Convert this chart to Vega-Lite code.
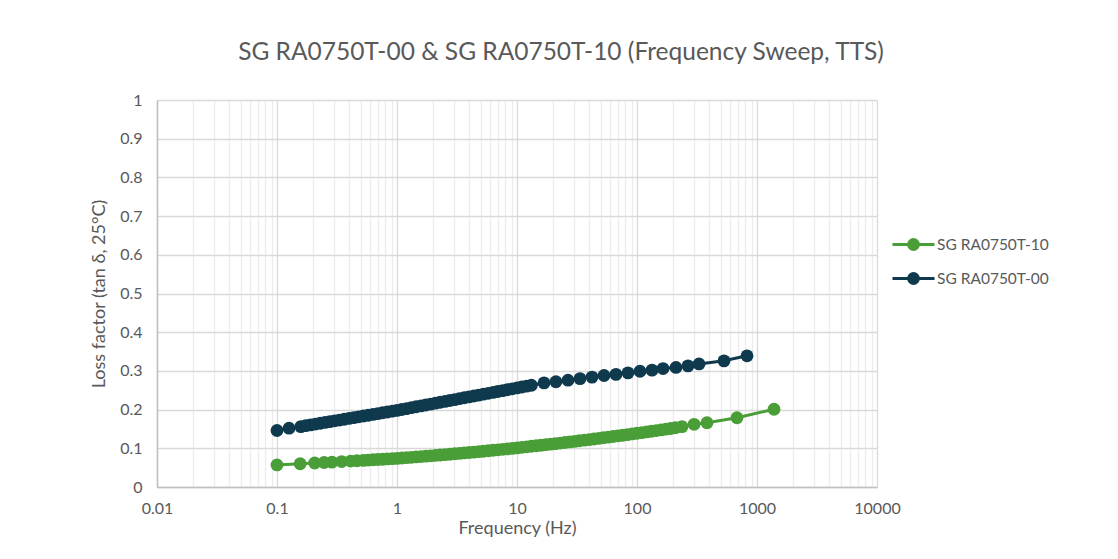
{
  "$schema": "https://vega.github.io/schema/vega-lite/v6.json",
  "description": "Loss factor vs frequency, TTS master curves",
  "autosize": {"type": "none"},
  "padding": {"left": 157, "top": 100, "right": 241, "bottom": 72},
  "width": 720,
  "height": 387,
  "background": "white",
  "title": {
    "text": "SG RA0750T-00 & SG RA0750T-10 (Frequency Sweep, TTS)",
    "frame": "group",
    "anchor": "middle",
    "dx": 44,
    "offset": 8,
    "baseline": "alphabetic",
    "font": "Lato",
    "fontSize": 24.5,
    "fontWeight": "normal",
    "color": "#595959"
  },
  "config": {
    "font": "Lato",
    "view": {"stroke": null}
  },
  "data": {
    "values": [
      {"sample": "SG RA0750T-00", "freq": 0.1, "tand": 0.146},
      {"sample": "SG RA0750T-00", "freq": 0.126, "tand": 0.152},
      {"sample": "SG RA0750T-00", "freq": 0.158, "tand": 0.156},
      {"sample": "SG RA0750T-00", "freq": 0.1738, "tand": 0.1585},
      {"sample": "SG RA0750T-00", "freq": 0.1905, "tand": 0.1606},
      {"sample": "SG RA0750T-00", "freq": 0.2089, "tand": 0.1626},
      {"sample": "SG RA0750T-00", "freq": 0.2291, "tand": 0.1647},
      {"sample": "SG RA0750T-00", "freq": 0.2512, "tand": 0.1668},
      {"sample": "SG RA0750T-00", "freq": 0.2754, "tand": 0.1689},
      {"sample": "SG RA0750T-00", "freq": 0.302, "tand": 0.171},
      {"sample": "SG RA0750T-00", "freq": 0.3311, "tand": 0.173},
      {"sample": "SG RA0750T-00", "freq": 0.3631, "tand": 0.1751},
      {"sample": "SG RA0750T-00", "freq": 0.3981, "tand": 0.1772},
      {"sample": "SG RA0750T-00", "freq": 0.4365, "tand": 0.1793},
      {"sample": "SG RA0750T-00", "freq": 0.4786, "tand": 0.1814},
      {"sample": "SG RA0750T-00", "freq": 0.5248, "tand": 0.1834},
      {"sample": "SG RA0750T-00", "freq": 0.5754, "tand": 0.1855},
      {"sample": "SG RA0750T-00", "freq": 0.631, "tand": 0.1876},
      {"sample": "SG RA0750T-00", "freq": 0.6918, "tand": 0.1897},
      {"sample": "SG RA0750T-00", "freq": 0.7586, "tand": 0.1918},
      {"sample": "SG RA0750T-00", "freq": 0.8318, "tand": 0.1938},
      {"sample": "SG RA0750T-00", "freq": 0.912, "tand": 0.1959},
      {"sample": "SG RA0750T-00", "freq": 1.0, "tand": 0.198},
      {"sample": "SG RA0750T-00", "freq": 1.096, "tand": 0.2003},
      {"sample": "SG RA0750T-00", "freq": 1.202, "tand": 0.2026},
      {"sample": "SG RA0750T-00", "freq": 1.318, "tand": 0.205},
      {"sample": "SG RA0750T-00", "freq": 1.445, "tand": 0.2073},
      {"sample": "SG RA0750T-00", "freq": 1.585, "tand": 0.2096},
      {"sample": "SG RA0750T-00", "freq": 1.738, "tand": 0.2119},
      {"sample": "SG RA0750T-00", "freq": 1.905, "tand": 0.2142},
      {"sample": "SG RA0750T-00", "freq": 2.089, "tand": 0.2166},
      {"sample": "SG RA0750T-00", "freq": 2.291, "tand": 0.2189},
      {"sample": "SG RA0750T-00", "freq": 2.512, "tand": 0.2212},
      {"sample": "SG RA0750T-00", "freq": 2.754, "tand": 0.2235},
      {"sample": "SG RA0750T-00", "freq": 3.02, "tand": 0.2258},
      {"sample": "SG RA0750T-00", "freq": 3.311, "tand": 0.2282},
      {"sample": "SG RA0750T-00", "freq": 3.631, "tand": 0.2305},
      {"sample": "SG RA0750T-00", "freq": 3.981, "tand": 0.2328},
      {"sample": "SG RA0750T-00", "freq": 4.365, "tand": 0.2351},
      {"sample": "SG RA0750T-00", "freq": 4.786, "tand": 0.2374},
      {"sample": "SG RA0750T-00", "freq": 5.248, "tand": 0.2398},
      {"sample": "SG RA0750T-00", "freq": 5.754, "tand": 0.2421},
      {"sample": "SG RA0750T-00", "freq": 6.31, "tand": 0.2444},
      {"sample": "SG RA0750T-00", "freq": 6.918, "tand": 0.2467},
      {"sample": "SG RA0750T-00", "freq": 7.586, "tand": 0.249},
      {"sample": "SG RA0750T-00", "freq": 8.318, "tand": 0.2514},
      {"sample": "SG RA0750T-00", "freq": 9.12, "tand": 0.2537},
      {"sample": "SG RA0750T-00", "freq": 10.0, "tand": 0.256},
      {"sample": "SG RA0750T-00", "freq": 10.96, "tand": 0.2583},
      {"sample": "SG RA0750T-00", "freq": 12.02, "tand": 0.2606},
      {"sample": "SG RA0750T-00", "freq": 13.18, "tand": 0.263},
      {"sample": "SG RA0750T-00", "freq": 16.8, "tand": 0.269},
      {"sample": "SG RA0750T-00", "freq": 21.1, "tand": 0.272},
      {"sample": "SG RA0750T-00", "freq": 26.6, "tand": 0.276},
      {"sample": "SG RA0750T-00", "freq": 33.5, "tand": 0.28},
      {"sample": "SG RA0750T-00", "freq": 42.2, "tand": 0.284},
      {"sample": "SG RA0750T-00", "freq": 53.1, "tand": 0.288},
      {"sample": "SG RA0750T-00", "freq": 66.8, "tand": 0.291},
      {"sample": "SG RA0750T-00", "freq": 84.1, "tand": 0.295},
      {"sample": "SG RA0750T-00", "freq": 105.9, "tand": 0.299},
      {"sample": "SG RA0750T-00", "freq": 133.4, "tand": 0.302},
      {"sample": "SG RA0750T-00", "freq": 164.8, "tand": 0.306},
      {"sample": "SG RA0750T-00", "freq": 211.3, "tand": 0.309},
      {"sample": "SG RA0750T-00", "freq": 266.1, "tand": 0.313},
      {"sample": "SG RA0750T-00", "freq": 328.9, "tand": 0.318},
      {"sample": "SG RA0750T-00", "freq": 530.9, "tand": 0.326},
      {"sample": "SG RA0750T-00", "freq": 826, "tand": 0.339},
      {"sample": "SG RA0750T-10", "freq": 0.1, "tand": 0.057},
      {"sample": "SG RA0750T-10", "freq": 0.156, "tand": 0.06},
      {"sample": "SG RA0750T-10", "freq": 0.206, "tand": 0.0619},
      {"sample": "SG RA0750T-10", "freq": 0.247, "tand": 0.0632},
      {"sample": "SG RA0750T-10", "freq": 0.287, "tand": 0.0643},
      {"sample": "SG RA0750T-10", "freq": 0.346, "tand": 0.0657},
      {"sample": "SG RA0750T-10", "freq": 0.411, "tand": 0.067},
      {"sample": "SG RA0750T-10", "freq": 0.464, "tand": 0.0679},
      {"sample": "SG RA0750T-10", "freq": 0.5248, "tand": 0.0688},
      {"sample": "SG RA0750T-10", "freq": 0.5754, "tand": 0.0696},
      {"sample": "SG RA0750T-10", "freq": 0.631, "tand": 0.0703},
      {"sample": "SG RA0750T-10", "freq": 0.6918, "tand": 0.071},
      {"sample": "SG RA0750T-10", "freq": 0.7586, "tand": 0.0718},
      {"sample": "SG RA0750T-10", "freq": 0.8318, "tand": 0.0725},
      {"sample": "SG RA0750T-10", "freq": 0.912, "tand": 0.0732},
      {"sample": "SG RA0750T-10", "freq": 1.0, "tand": 0.074},
      {"sample": "SG RA0750T-10", "freq": 1.096, "tand": 0.0749},
      {"sample": "SG RA0750T-10", "freq": 1.202, "tand": 0.0758},
      {"sample": "SG RA0750T-10", "freq": 1.318, "tand": 0.0767},
      {"sample": "SG RA0750T-10", "freq": 1.445, "tand": 0.0777},
      {"sample": "SG RA0750T-10", "freq": 1.585, "tand": 0.0786},
      {"sample": "SG RA0750T-10", "freq": 1.738, "tand": 0.0796},
      {"sample": "SG RA0750T-10", "freq": 1.905, "tand": 0.0806},
      {"sample": "SG RA0750T-10", "freq": 2.089, "tand": 0.0816},
      {"sample": "SG RA0750T-10", "freq": 2.291, "tand": 0.0826},
      {"sample": "SG RA0750T-10", "freq": 2.512, "tand": 0.0836},
      {"sample": "SG RA0750T-10", "freq": 2.754, "tand": 0.0847},
      {"sample": "SG RA0750T-10", "freq": 3.02, "tand": 0.0858},
      {"sample": "SG RA0750T-10", "freq": 3.311, "tand": 0.0868},
      {"sample": "SG RA0750T-10", "freq": 3.631, "tand": 0.088},
      {"sample": "SG RA0750T-10", "freq": 3.981, "tand": 0.0891},
      {"sample": "SG RA0750T-10", "freq": 4.365, "tand": 0.0902},
      {"sample": "SG RA0750T-10", "freq": 4.786, "tand": 0.0914},
      {"sample": "SG RA0750T-10", "freq": 5.248, "tand": 0.0925},
      {"sample": "SG RA0750T-10", "freq": 5.754, "tand": 0.0937},
      {"sample": "SG RA0750T-10", "freq": 6.31, "tand": 0.0949},
      {"sample": "SG RA0750T-10", "freq": 6.918, "tand": 0.0961},
      {"sample": "SG RA0750T-10", "freq": 7.586, "tand": 0.0974},
      {"sample": "SG RA0750T-10", "freq": 8.318, "tand": 0.0986},
      {"sample": "SG RA0750T-10", "freq": 9.12, "tand": 0.0999},
      {"sample": "SG RA0750T-10", "freq": 10.0, "tand": 0.1012},
      {"sample": "SG RA0750T-10", "freq": 10.96, "tand": 0.1025},
      {"sample": "SG RA0750T-10", "freq": 12.02, "tand": 0.1038},
      {"sample": "SG RA0750T-10", "freq": 13.18, "tand": 0.1052},
      {"sample": "SG RA0750T-10", "freq": 14.45, "tand": 0.1065},
      {"sample": "SG RA0750T-10", "freq": 15.85, "tand": 0.1079},
      {"sample": "SG RA0750T-10", "freq": 17.38, "tand": 0.1093},
      {"sample": "SG RA0750T-10", "freq": 19.05, "tand": 0.1107},
      {"sample": "SG RA0750T-10", "freq": 20.89, "tand": 0.1121},
      {"sample": "SG RA0750T-10", "freq": 22.91, "tand": 0.1135},
      {"sample": "SG RA0750T-10", "freq": 25.12, "tand": 0.115},
      {"sample": "SG RA0750T-10", "freq": 27.54, "tand": 0.1165},
      {"sample": "SG RA0750T-10", "freq": 30.2, "tand": 0.118},
      {"sample": "SG RA0750T-10", "freq": 33.11, "tand": 0.1195},
      {"sample": "SG RA0750T-10", "freq": 36.31, "tand": 0.121},
      {"sample": "SG RA0750T-10", "freq": 39.81, "tand": 0.1225},
      {"sample": "SG RA0750T-10", "freq": 43.65, "tand": 0.1241},
      {"sample": "SG RA0750T-10", "freq": 47.86, "tand": 0.1256},
      {"sample": "SG RA0750T-10", "freq": 52.48, "tand": 0.1272},
      {"sample": "SG RA0750T-10", "freq": 57.54, "tand": 0.1288},
      {"sample": "SG RA0750T-10", "freq": 63.1, "tand": 0.1304},
      {"sample": "SG RA0750T-10", "freq": 69.18, "tand": 0.1321},
      {"sample": "SG RA0750T-10", "freq": 75.86, "tand": 0.1337},
      {"sample": "SG RA0750T-10", "freq": 83.18, "tand": 0.1354},
      {"sample": "SG RA0750T-10", "freq": 91.2, "tand": 0.1371},
      {"sample": "SG RA0750T-10", "freq": 100, "tand": 0.1388},
      {"sample": "SG RA0750T-10", "freq": 109.6, "tand": 0.1405},
      {"sample": "SG RA0750T-10", "freq": 120.2, "tand": 0.1423},
      {"sample": "SG RA0750T-10", "freq": 131.8, "tand": 0.144},
      {"sample": "SG RA0750T-10", "freq": 144.5, "tand": 0.1458},
      {"sample": "SG RA0750T-10", "freq": 158.5, "tand": 0.1476},
      {"sample": "SG RA0750T-10", "freq": 173.8, "tand": 0.1494},
      {"sample": "SG RA0750T-10", "freq": 190.5, "tand": 0.1512},
      {"sample": "SG RA0750T-10", "freq": 208.9, "tand": 0.153},
      {"sample": "SG RA0750T-10", "freq": 237, "tand": 0.156},
      {"sample": "SG RA0750T-10", "freq": 299, "tand": 0.162},
      {"sample": "SG RA0750T-10", "freq": 383, "tand": 0.166},
      {"sample": "SG RA0750T-10", "freq": 681, "tand": 0.179},
      {"sample": "SG RA0750T-10", "freq": 1386, "tand": 0.201}
    ]
  },
  "mark": {
    "type": "line",
    "strokeWidth": 3,
    "point": {"filled": true, "size": 165, "opacity": 1}
  },
  "encoding": {
    "x": {
      "field": "freq",
      "type": "quantitative",
      "scale": {"type": "log", "domain": [0.01, 10000], "nice": false},
      "axis": {
        "title": "Frequency (Hz)",
        "values": [0.01, 0.02, 0.03, 0.04, 0.05, 0.06, 0.07, 0.08, 0.09,
                   0.1, 0.2, 0.3, 0.4, 0.5, 0.6, 0.7, 0.8, 0.9,
                   1, 2, 3, 4, 5, 6, 7, 8, 9,
                   10, 20, 30, 40, 50, 60, 70, 80, 90,
                   100, 200, 300, 400, 500, 600, 700, 800, 900,
                   1000, 2000, 3000, 4000, 5000, 6000, 7000, 8000, 9000, 10000],
        "labelExpr": "abs(log(datum.value) / LN10 - round(log(datum.value) / LN10)) < 0.000001 ? '' + datum.value : ''",
        "gridColor": {
          "condition": {"test": "abs(log(datum.value) / LN10 - round(log(datum.value) / LN10)) < 0.000001", "value": "#d9d9d9"},
          "value": "#ececec"
        },
        "gridWidth": 1.3,
        "ticks": false,
        "domainColor": "#bfbfbf",
        "domainWidth": 1.5,
        "labelPadding": 13,
        "labelFontSize": 16,
        "labelColor": "#595959",
        "labelOverlap": false,
        "labelFlush": false,
        "titleFontSize": 18,
        "titleFontWeight": "normal",
        "titleColor": "#595959",
        "titlePadding": 3
      }
    },
    "y": {
      "field": "tand",
      "type": "quantitative",
      "scale": {"domain": [0, 1], "nice": false},
      "axis": {
        "title": "Loss factor (tan δ, 25°C)",
        "values": [0, 0.1, 0.2, 0.3, 0.4, 0.5, 0.6, 0.7, 0.8, 0.9, 1],
        "format": "~g",
        "gridColor": "#d9d9d9",
        "gridWidth": 1.3,
        "ticks": false,
        "domainColor": "#bfbfbf",
        "domainWidth": 1.5,
        "labelPadding": 15,
        "labelFontSize": 16,
        "labelColor": "#595959",
        "titleFontSize": 18,
        "titleFontWeight": "normal",
        "titleColor": "#595959",
        "titlePadding": 11
      }
    },
    "color": {
      "field": "sample",
      "type": "nominal",
      "scale": {
        "domain": ["SG RA0750T-10", "SG RA0750T-00"],
        "range": ["#4a9e38", "#0f3a4d"]
      },
      "legend": {
        "title": null,
        "orient": "none",
        "legendX": 741,
        "legendY": 129,
        "symbolType": "M-1.5,0H1.5M0.35,0A0.35,0.35,0,1,1,-0.35,0A0.35,0.35,0,1,1,0.35,0",
        "symbolSize": 784,
        "symbolStrokeWidth": 3,
        "labelFontSize": 15.5,
        "labelColor": "#595959",
        "labelOffset": 8,
        "rowPadding": 7,
        "encode": {
          "symbols": {"update": {"fill": {"scale": "color", "field": "value"}}}
        }
      }
    }
  }
}
